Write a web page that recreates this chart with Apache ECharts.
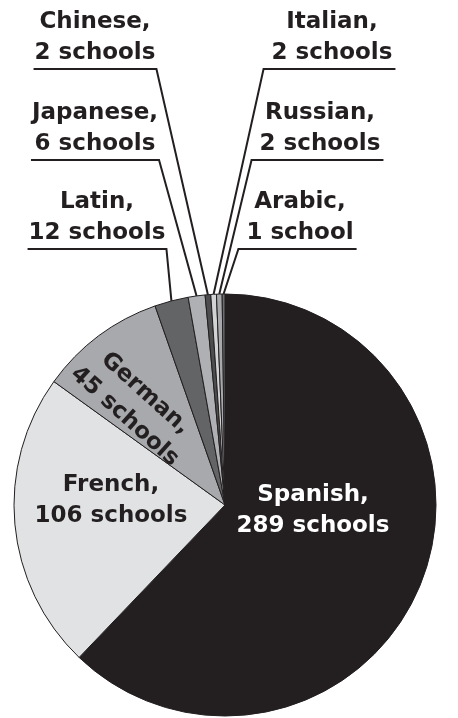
<!DOCTYPE html>
<html>
<head>
<meta charset="utf-8">
<script src="https://cdn.jsdelivr.net/npm/echarts@6/dist/echarts.min.js"></script>
<style>
  html, body { margin: 0; padding: 0; background: #ffffff; }
  #chart { width: 458px; height: 718px; }
</style>
</head>
<body>
<div id="chart"></div>
<script>
// ---- data ----
const languages = ['Spanish', 'French', 'German', 'Latin', 'Japanese', 'Chinese', 'Italian', 'Russian', 'Arabic'];
const schools = [289, 106, 45, 12, 6, 2, 2, 2, 1];
const sliceColors = ['#231f20', '#e1e2e4', '#a7a9ac', '#636466', '#aeb0b3', '#4d4d4f', '#d1d3d4', '#a7a9ac', '#6d6e71'];

// ---- label placement (layout only) ----
const insideLabels = {
  Spanish: { x: 313, y: 511, color: '#ffffff' },
  French:  { x: 111, y: 501, color: '#231f20' },
  German:  { x: 135, y: 405, color: '#231f20', rotate: -42 }
};
const outsideLabels = {
  Chinese:  { x: 95,  y: 37.5,  side: 'left' },
  Japanese: { x: 95,  y: 128.5, side: 'left' },
  Latin:    { x: 97,  y: 217.5, side: 'left' },
  Italian:  { x: 332, y: 37.5,  side: 'right' },
  Russian:  { x: 320, y: 128.5, side: 'right' },
  Arabic:   { x: 300, y: 217.5, side: 'right' }
};

const ink = '#231f20';
const chart = echarts.init(document.getElementById('chart'), null, { renderer: 'canvas' });

const pieData = languages.map(function (name, i) {
  const inside = !!insideLabels[name];
  return {
    name: name,
    value: schools[i],
    itemStyle: { color: sliceColors[i] },
    label: {
      position: inside ? 'inside' : 'outside',
      color: inside ? insideLabels[name].color : ink
    },
    labelLine: { show: !inside }
  };
});

chart.setOption({
  animation: false,
  backgroundColor: '#ffffff',
  series: [{
    type: 'pie',
    center: [225, 505],
    radius: 211,
    startAngle: 90,
    clockwise: true,
    avoidLabelOverlap: false,
    itemStyle: { borderColor: ink, borderWidth: 1 },
    emphasis: { disabled: true },
    label: {
      show: true,
      fontFamily: 'DejaVu Sans',
      fontWeight: 'bold',
      fontSize: 23,
      lineHeight: 31,
      align: 'center',
      formatter: function (p) {
        return p.name + ',\n' + p.value + (p.value === 1 ? ' school' : ' schools');
      }
    },
    labelLine: {
      show: true,
      lineStyle: { color: ink, width: 2 }
    },
    labelLayout: function (params) {
      const name = languages[params.dataIndex];
      const inn = insideLabels[name];
      if (inn) {
        const o = { x: inn.x, y: inn.y, align: 'center', verticalAlign: 'middle' };
        if (inn.rotate != null) o.rotate = inn.rotate;
        return o;
      }
      const spot = outsideLabels[name];
      const w = params.labelRect.width;
      const h = params.labelRect.height;
      const left = spot.x - w / 2;
      const bottom = spot.y + h / 2;
      const uy = bottom + 0.5;
      const start = params.labelLinePoints ? params.labelLinePoints[0] : [225, 294];
      let pts;
      if (spot.side === 'left') {
        pts = [start, [left + w + 1, uy], [left - 1, uy]];
      } else {
        pts = [start, [left - 8, uy], [left + w + 3, uy]];
      }
      return { x: spot.x, y: spot.y, align: 'center', verticalAlign: 'middle', labelLinePoints: pts };
    },
    data: pieData
  }]
});
</script>
</body>
</html>
